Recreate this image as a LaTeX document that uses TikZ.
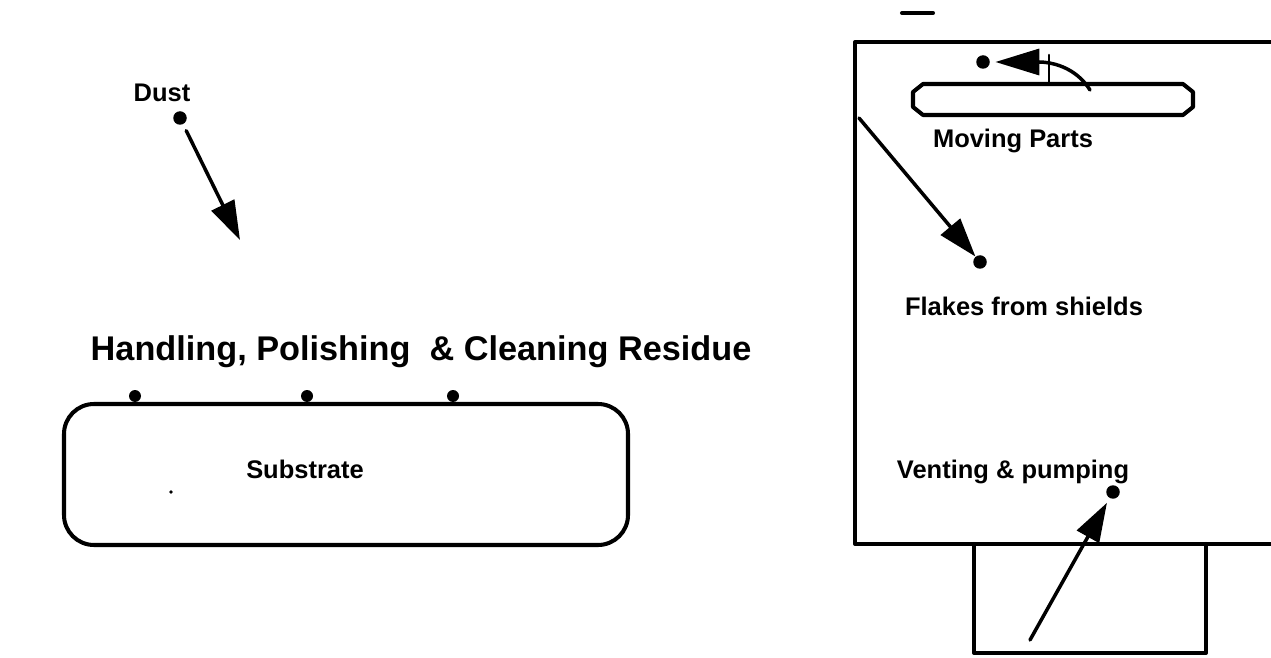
\documentclass[tikz,border=0pt]{standalone}
\usepackage{fontspec}
\setmainfont{Liberation Sans}
\usetikzlibrary{arrows.meta}
\begin{document}
\begin{tikzpicture}[x=0.02cm,y=-0.02cm,line join=round,line cap=round,
	>={Triangle[length=0.78cm,width=0.5cm]},
	lbl/.style={font=\bfseries\fontsize{14.5}{17}\selectfont},
	speck/.style={circle,fill,inner sep=0pt,minimum size=0.27cm},
	wall/.style={line width=2.3pt},
	flow/.style={->,line width=2pt}]
	\useasboundingbox (0,0) rectangle (1271,658);
	% left: substrate
	\node[lbl] (dust) at (162,93) {Dust};
	\node[speck] (d1) at (180,118) {};
	\coordinate (d2) at (240,240);
	\draw[flow,shorten <=4pt] (d1) -- (d2);
	\node[font=\bfseries\fontsize{19.5}{23}\selectfont] (title) at (421,352) {Handling, Polishing\ \ \& Cleaning Residue};
	\draw[wall,rounded corners=0.6cm] (64,404) rectangle (628,545);
	\node[lbl] (sub) at (305,469) {Substrate};
	\foreach \x [count=\i] in {135,307,453}
		\node[speck,minimum size=0.24cm] (r\i) at (\x,396) {};
	\node[speck,minimum size=2pt] (r4) at (171,492) {};
	% right: chamber and pump
	\draw[wall] (902,13) -- (933,13);
	\draw[wall] (1280,42) -- (855,42) -- (855,544) -- (1280,544);
	\draw[wall] (974,544) -- (974,653) -- (1206,653) -- (1206,544);
	\draw[wall] (923,84) -- (1183,84) -- (1193,92) -- (1193,107) -- (1183,115) -- (923,115) -- (913,107) -- (913,92) -- cycle;
	\node[lbl] (mov) at (1013,141) {Moving Parts};
	\node[speck] (m1) at (983,62) {};
	\draw[line width=1.5pt] (1049,55) -- (1049,84);
	\draw[flow,-{Triangle[length=0.88cm,width=0.52cm]},shorten >=3pt] (1090,90) .. controls (1075,66) and (1050,62) .. (m1);
	\node[speck] (f1) at (980,262) {};
	\coordinate (w1) at (859,118);
	\draw[flow] (w1) -- (f1);
	\node[lbl] (flk) at (1024,306) {Flakes from shields};
	\node[lbl] (vent) at (1013,472) {Venting \& pumping};
	\node[speck] (v1) at (1113,492) {};
	\coordinate (p1) at (1030,640);
	\draw[flow,shorten >=3pt] (p1) -- (v1);
\end{tikzpicture}
\end{document}
